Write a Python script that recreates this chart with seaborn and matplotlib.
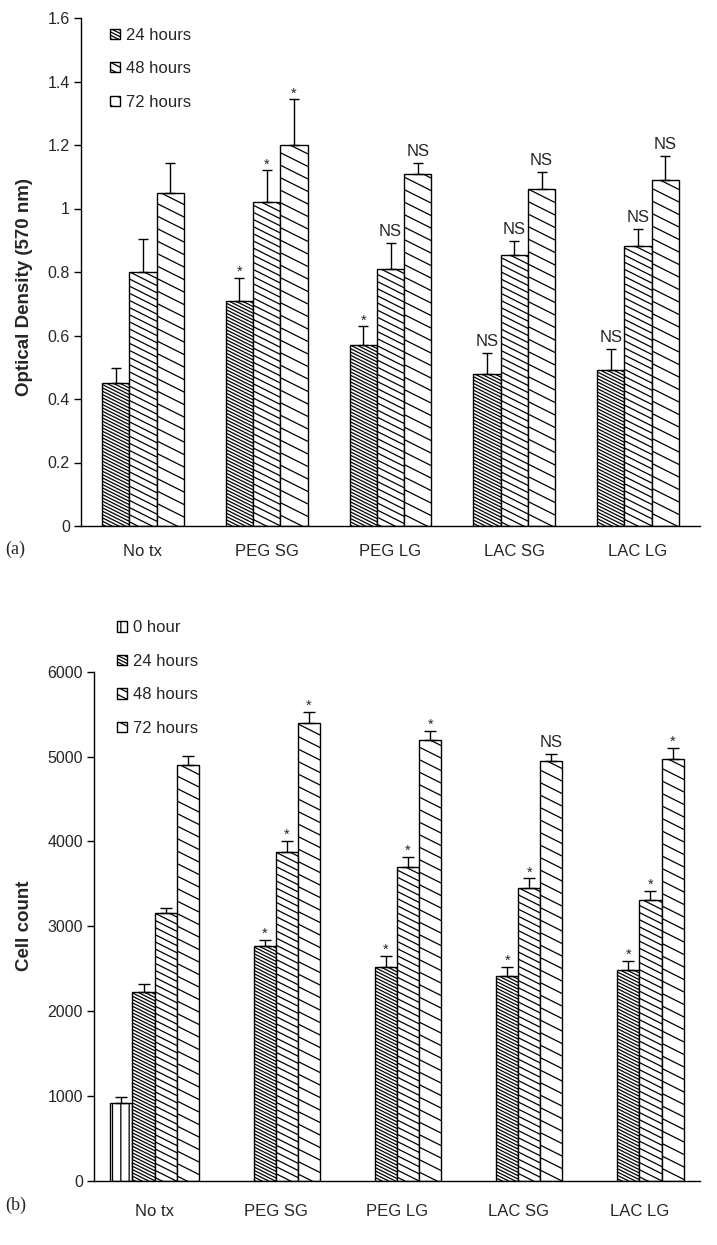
import numpy as np
import pandas as pd
import matplotlib
matplotlib.use("Agg")
import matplotlib.pyplot as plt
import matplotlib.hatch as mhatch
from matplotlib.path import Path
import seaborn as sns

# ---------------- data ----------------
groups = ["No tx", "PEG SG", "PEG LG", "LAC SG", "LAC LG"]

od_levels = ["24 hours", "48 hours", "72 hours"]
od_24 = [0.45, 0.71, 0.57, 0.48, 0.49]
od_48 = [0.80, 1.02, 0.81, 0.853, 0.882]
od_72 = [1.05, 1.20, 1.11, 1.06, 1.09]
od_24_err = [0.047, 0.072, 0.060, 0.064, 0.066]
od_48_err = [0.103, 0.100, 0.082, 0.045, 0.054]
od_72_err = [0.094, 0.144, 0.034, 0.055, 0.075]
od_24_sig = ["", "*", "*", "NS", "NS"]
od_48_sig = ["", "*", "NS", "NS", "NS"]
od_72_sig = ["", "*", "NS", "NS", "NS"]
od_ticks = [0, 0.2, 0.4, 0.6, 0.8, 1.0, 1.2, 1.4, 1.6]

cc_levels = ["0 hour", "24 hours", "48 hours", "72 hours"]
cc_0 = [912, np.nan, np.nan, np.nan, np.nan]
cc_24 = [2228, 2767, 2523, 2413, 2487]
cc_48 = [3152, 3878, 3694, 3450, 3310]
cc_72 = [4900, 5399, 5195, 4951, 4971]
cc_0_err = [75, np.nan, np.nan, np.nan, np.nan]
cc_24_err = [94, 74, 129, 110, 107]
cc_48_err = [59, 130, 126, 115, 109]
cc_72_err = [110, 130, 110, 76, 133]
cc_0_sig = ["", "", "", "", ""]
cc_24_sig = ["", "*", "*", "*", "*"]
cc_48_sig = ["", "*", "*", "*", "*"]
cc_72_sig = ["", "*", "*", "NS", "*"]
cc_ticks = [0, 1000, 2000, 3000, 4000, 5000, 6000]


# ---------------- shallow diagonal hatch (slope ~ -0.5) ----------------
class ShallowSouthEastHatch(mhatch.HatchPatternBase):
    _lines = {1: 8, 2: 14, 3: 30}

    def __init__(self, hatch, density):
        c = hatch.count('\\')
        self.num_lines = self._lines.get(c, 2 * c * 5) if c else 0
        if self.num_lines:
            self.k = np.arange(0, int(self.num_lines * 1.5) + 2)
            self.num_vertices = len(self.k) * 2
        else:
            self.num_vertices = 0

    def set_vertices_and_codes(self, vertices, codes):
        c = self.k / self.num_lines
        vertices[0::2, 0] = 0.0
        vertices[0::2, 1] = c
        vertices[1::2, 0] = 1.0
        vertices[1::2, 1] = c - 0.5
        codes[0::2] = Path.MOVETO
        codes[1::2] = Path.LINETO


try:
    mhatch._hatch_types = [ShallowSouthEastHatch if t is mhatch.SouthEastHatch else t
                           for t in mhatch._hatch_types]
except Exception:
    pass

# ---------------- style ----------------
sns.set_theme(style="ticks")
plt.rcParams["font.family"] = ["Liberation Sans", "DejaVu Sans"]
plt.rcParams["hatch.linewidth"] = 0.9
plt.rcParams["axes.linewidth"] = 1.0

fig = plt.figure(figsize=(7.17, 12.45), dpi=100)
ax1 = fig.add_axes([81 / 717, 1 - 526 / 1245, 619 / 717, 508 / 1245])
ax2 = fig.add_axes([94 / 717, 1 - 1180.7 / 1245, 606 / 717, 509 / 1245])


def long_df(levels, series):
    rows = []
    for lev, vals in zip(levels, series):
        for g, v in zip(groups, vals):
            rows.append({"group": g, "time": lev, "value": v})
    return pd.DataFrame(rows)


def draw_panel(ax, levels, series, errs, sigs, hatches, width, ticks, ylim, ylabel,
               capsize, xpad):
    df = long_df(levels, series)
    sns.barplot(data=df, x="group", y="value", hue="time", order=groups,
                hue_order=levels, palette=["white"] * len(levels), edgecolor="black",
                linewidth=1.0, width=width, errorbar=None, ax=ax, legend=False,
                saturation=1)
    for cont, h, err, sig in zip(ax.containers, hatches, errs, sigs):
        xs, ys, es, ss = [], [], [], []
        for p, e, s in zip(cont.patches, err, sig):
            p.set_hatch(h)
            p.set_edgecolor("black")
            hgt = p.get_height()
            if hgt is None or np.isnan(hgt) or np.isnan(e):
                continue
            xs.append(p.get_x() + p.get_width() / 2)
            ys.append(hgt)
            es.append(e)
            ss.append(s)
        ax.errorbar(xs, ys, yerr=[np.zeros(len(es)), es], fmt="none", ecolor="black",
                    elinewidth=1.0, capsize=capsize, capthick=1.0, zorder=3)
        for x, y, e, s in zip(xs, ys, es, ss):
            if not s:
                continue
            if s == "*":
                ax.annotate(s, (x, y + e), xytext=(0, -1), textcoords="offset points",
                            ha="center", va="bottom", fontsize=10.5)
            else:
                ax.annotate(s, (x, y + e), xytext=(0, 3), textcoords="offset points",
                            ha="center", va="bottom", fontsize=12)
    ax.set_xlim(-0.5, 4.5)
    ax.set_ylim(*ylim)
    ax.set_yticks(ticks)
    ax.set_yticklabels([f"{t:g}" for t in ticks], fontsize=11.5)
    ax.tick_params(axis="y", length=5, width=1.0, color="black", pad=3)
    ax.tick_params(axis="x", length=0, pad=xpad, labelsize=12)
    ax.set_xlabel("")
    ax.set_ylabel(ylabel, fontsize=13.5, fontweight="bold", labelpad=8)
    for side in ["top", "right"]:
        ax.spines[side].set_visible(False)
    for side in ["left", "bottom"]:
        ax.spines[side].set_color("black")
    ax.set_facecolor("white")


hatch_od = ["\\\\\\", "\\\\", "\\"]
hatch_cc = ["||", "\\\\\\", "\\\\", "\\"]

draw_panel(ax1, od_levels, [od_24, od_48, od_72], [od_24_err, od_48_err, od_72_err],
           [od_24_sig, od_48_sig, od_72_sig], hatch_od, 0.66, od_ticks, (0, 1.6),
           "Optical Density (570 nm)", 3.6, 13)
draw_panel(ax2, cc_levels, [cc_0, cc_24, cc_48, cc_72],
           [cc_0_err, cc_24_err, cc_48_err, cc_72_err],
           [cc_0_sig, cc_24_sig, cc_48_sig, cc_72_sig], hatch_cc, 0.73, cc_ticks,
           (0, 6000), "Cell count", 4, 17)

ax1.yaxis.set_label_coords(-0.0775, 0.47)
ax2.yaxis.set_label_coords(-0.1007, 0.5)

leg_kw = dict(loc="upper left", frameon=False, fontsize=12, handlelength=0.58,
              handleheight=0.58, handletextpad=0.4, labelspacing=1.11, borderpad=0,
              borderaxespad=0)
ax1.legend(ax1.containers, od_levels, bbox_to_anchor=(0.047, 0.981), **leg_kw)
ax2.legend(ax2.containers, cc_levels, bbox_to_anchor=(0.038, 1.101), **leg_kw)

fig.text(5 / 717, 1 - 549 / 1245, "(a)", family=["Liberation Serif", "DejaVu Serif"],
         fontsize=13, va="center", ha="left")
fig.text(5 / 717, 1 - 1205 / 1245, "(b)", family=["Liberation Serif", "DejaVu Serif"],
         fontsize=13, va="center", ha="left")

fig.savefig("out.png", dpi=100, facecolor="white")
